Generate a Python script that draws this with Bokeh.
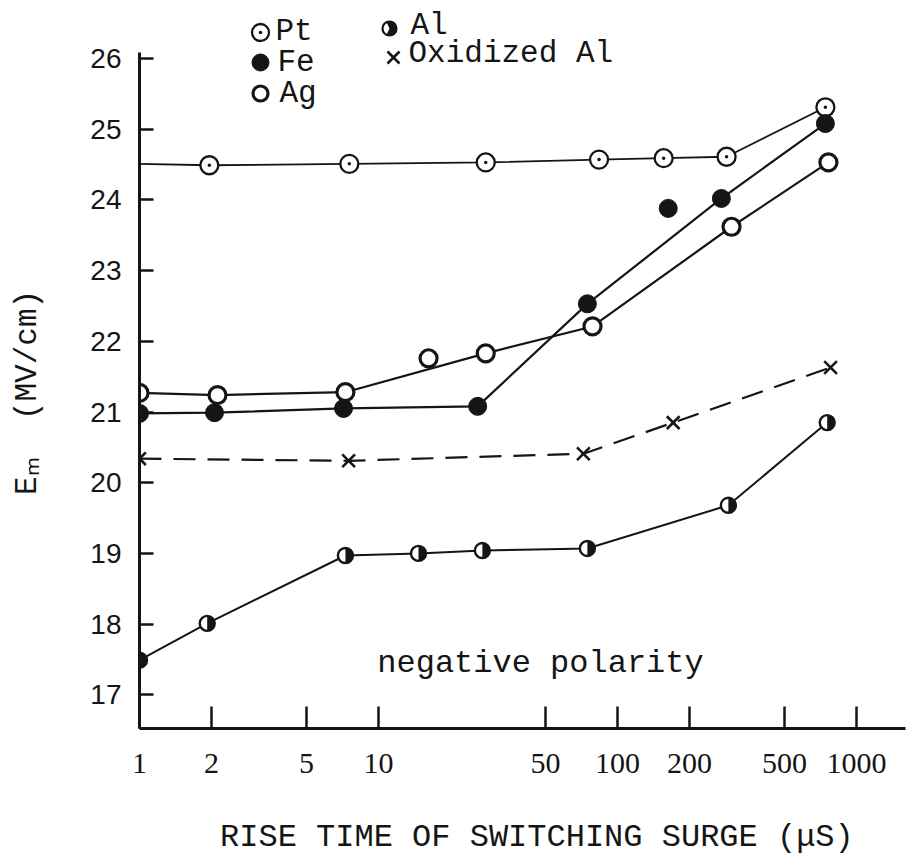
import math
from bokeh.plotting import figure
from bokeh.models import Range1d, FixedTicker, Label, LogAxis
from bokeh.embed import file_html
from bokeh.resources import INLINE

# Breakdown field E_m (MV/cm) against rise time of the switching surge (µs),
# negative polarity, for several electrode metals.
x_ticks = [1, 2, 5, 10, 50, 100, 200, 500, 1000]
y_ticks = [17, 18, 19, 20, 21, 22, 23, 24, 25, 26]

pt_axis_y = 24.51  # where the Pt curve meets the field axis (no marker there)
pt_x = [1.96, 7.55, 28.1, 83.7, 156, 286, 741]
pt_y = [24.49, 24.51, 24.53, 24.57, 24.59, 24.61, 25.31]

fe_x = [1, 2.06, 7.14, 26.0, 74.8, 272, 741]
fe_y = [20.98, 20.99, 21.05, 21.08, 22.53, 24.02, 25.08]
fe_loose_x = [163]
fe_loose_y = [23.88]

ag_x = [1, 2.12, 7.27, 28.1, 78.6, 300, 763]
ag_y = [21.27, 21.24, 21.28, 21.83, 22.21, 23.62, 24.53]
ag_loose_x = [16.2]
ag_loose_y = [21.76]

al_x = [1, 1.92, 7.27, 14.7, 27.2, 74.8, 291, 754]
al_y = [17.49, 18.01, 18.97, 19.00, 19.04, 19.07, 19.68, 20.85]

ox_x = [1, 7.5, 72, 171, 779]
ox_y = [20.34, 20.31, 20.41, 20.85, 21.63]

x_title = "RISE TIME OF SWITCHING SURGE (\u03bcS)"
x_title_at = 46   # rise time under the middle of the title
# trailing no-break spaces push the centred field label down the axis
y_title = "E\u2098\u00a0\u00a0(MV/cm)" + "\u00a0" * 3

# ---- canvas geometry (pixels) ------------------------------------------
W, H = 908, 858
FRAME_L, FRAME_R, FRAME_T, FRAME_B = 139, 905, 0, 728
X1_PX = 139          # where rise time = 1 µs sits
DECADE_PX = 239.0    # pixels per decade of rise time
Y26_PX = 58          # where 26 MV/cm sits
UNIT_PX = 70.7       # pixels per MV/cm


def px2x(px):
    return 10 ** ((px - X1_PX) / DECADE_PX)


def py2y(py):
    return 26 - (py - Y26_PX) / UNIT_PX


INK = "#151515"
MONO = "Liberation Mono"

p = figure(
    width=W, height=H,
    x_axis_type="log",
    x_range=Range1d(px2x(FRAME_L), px2x(FRAME_R)),
    y_range=Range1d(py2y(FRAME_B), py2y(FRAME_T)),
    min_border_left=FRAME_L, min_border_right=W - FRAME_R,
    min_border_top=FRAME_T, min_border_bottom=H - FRAME_B,
    toolbar_location=None, output_backend="svg",
)
p.outline_line_color = None
p.grid.visible = False
p.background_fill_color = "white"
p.border_fill_color = "white"

# ---- axes ---------------------------------------------------------------
xa = p.xaxis[0]
xa.ticker = FixedTicker(ticks=x_ticks)
xa.axis_line_width = 3
xa.axis_line_color = INK
xa.major_tick_in = 22
xa.major_tick_out = 0
xa.major_tick_line_width = 2.5
xa.major_tick_line_color = INK
xa.minor_tick_line_color = None
xa.major_label_standoff = 25
xa.major_label_text_font = "Liberation Serif"
xa.major_label_text_font_size = "30px"
xa.major_label_text_color = INK
xa.major_label_overrides = {t: str(t) for t in x_ticks}

# the x title sits on a bare axis of its own under the tick labels
title_axis = LogAxis(
    ticker=FixedTicker(ticks=[x_title_at]),
    major_label_overrides={x_title_at: x_title},
    axis_line_color=None, major_tick_line_color=None,
    minor_tick_line_color=None, major_tick_in=0, major_tick_out=0,
    major_label_standoff=43, major_label_text_font=MONO,
    major_label_text_font_size="32px", major_label_text_color=INK,
)
p.add_layout(title_axis, "below")

ya = p.yaxis[0]
ya.ticker = FixedTicker(ticks=y_ticks)
ya.bounds = (py2y(FRAME_B), py2y(52))
ya.axis_line_width = 3
ya.axis_line_color = INK
ya.major_tick_in = 14
ya.major_tick_out = 0
ya.major_tick_line_width = 2.5
ya.major_tick_line_color = INK
ya.minor_tick_line_color = None
ya.major_label_standoff = 18
ya.major_label_text_font = "Liberation Sans"
ya.major_label_text_font_size = "28px"
ya.major_label_text_color = INK
ya.axis_label = y_title
ya.axis_label_text_font = MONO
ya.axis_label_text_font_size = "31px"
ya.axis_label_text_font_style = "normal"
ya.axis_label_text_color = INK
ya.axis_label_standoff = 42

# ---- curves -------------------------------------------------------------
p.line([1] + pt_x, [pt_axis_y] + pt_y, line_color=INK, line_width=1.8)
p.line(fe_x, fe_y, line_color=INK, line_width=2.2)
p.line(ag_x, ag_y, line_color=INK, line_width=2.2)
p.line(al_x, al_y, line_color=INK, line_width=2)
p.line(ox_x, ox_y, line_color=INK, line_width=2.2, line_dash="22 12")

# Pt: open circle with a centre dot
p.scatter(pt_x, pt_y, marker="circle", size=18, fill_color="white",
          line_color=INK, line_width=2.3)
p.scatter(pt_x, pt_y, marker="circle", size=3.5, fill_color=INK, line_color=None)

# Fe: solid circle
p.scatter(fe_x + fe_loose_x, fe_y + fe_loose_y, marker="circle", size=18,
          fill_color=INK, line_color=INK)

# Ag: heavy open circle
p.scatter(ag_x + ag_loose_x, ag_y + ag_loose_y, marker="circle", size=17,
          fill_color="white", line_color=INK, line_width=3.2)

# Al: half-filled circle
p.scatter(al_x, al_y, marker="circle", size=15, fill_color="white",
          line_color=None)
p.wedge(al_x, al_y, radius=7.5, radius_units="screen",
        start_angle=-math.pi / 2, end_angle=math.pi / 2,
        fill_color=INK, line_color=None)
p.scatter(al_x, al_y, marker="circle", size=15, fill_color=None,
          line_color=INK, line_width=2.4)

# Oxidized Al: crosses on a dashed line
p.scatter(ox_x, ox_y, marker="x", size=18, line_color=INK, line_width=2.6)

# ---- key ----------------------------------------------------------------
def key_text(px, py, text, size="31px"):
    p.add_layout(Label(x=px2x(px), y=py2y(py), text=text, text_font=MONO,
                       text_font_size=size, text_color=INK,
                       text_align="left", text_baseline="middle"))


kx1, kx2 = 260, 389
p.scatter([px2x(kx1)], [py2y(32)], marker="circle", size=17, fill_color="white",
          line_color=INK, line_width=2.3)
p.scatter([px2x(kx1)], [py2y(32)], marker="circle", size=3.5, fill_color=INK,
          line_color=None)
p.scatter([px2x(kx1)], [py2y(62)], marker="circle", size=17, fill_color=INK,
          line_color=INK)
p.scatter([px2x(kx1)], [py2y(93)], marker="circle", size=15, fill_color="white",
          line_color=INK, line_width=3.2)
p.scatter([px2x(kx2)], [py2y(28)], marker="circle", size=14, fill_color="white",
          line_color=None)
p.wedge([px2x(kx2)], [py2y(28)], radius=7, radius_units="screen",
        start_angle=-math.radians(115), end_angle=math.radians(115),
        fill_color=INK, line_color=None)
p.scatter([px2x(kx2)], [py2y(28)], marker="circle", size=14, fill_color=None,
          line_color=INK, line_width=2.2)
p.scatter([px2x(393)], [py2y(57)], marker="x", size=17, line_color=INK,
          line_width=2.6)

key_text(275, 31, "Pt")
key_text(277, 62, "Fe")
key_text(279, 93, "Ag")
key_text(410, 25, "Al")
key_text(408, 53, "Oxidized Al")

p.add_layout(Label(x=px2x(540), y=py2y(663), text="negative polarity",
                   text_font=MONO, text_font_size="32px", text_color=INK,
                   text_align="center", text_baseline="middle"))

open("out.html", "w").write(file_html(p, INLINE))
